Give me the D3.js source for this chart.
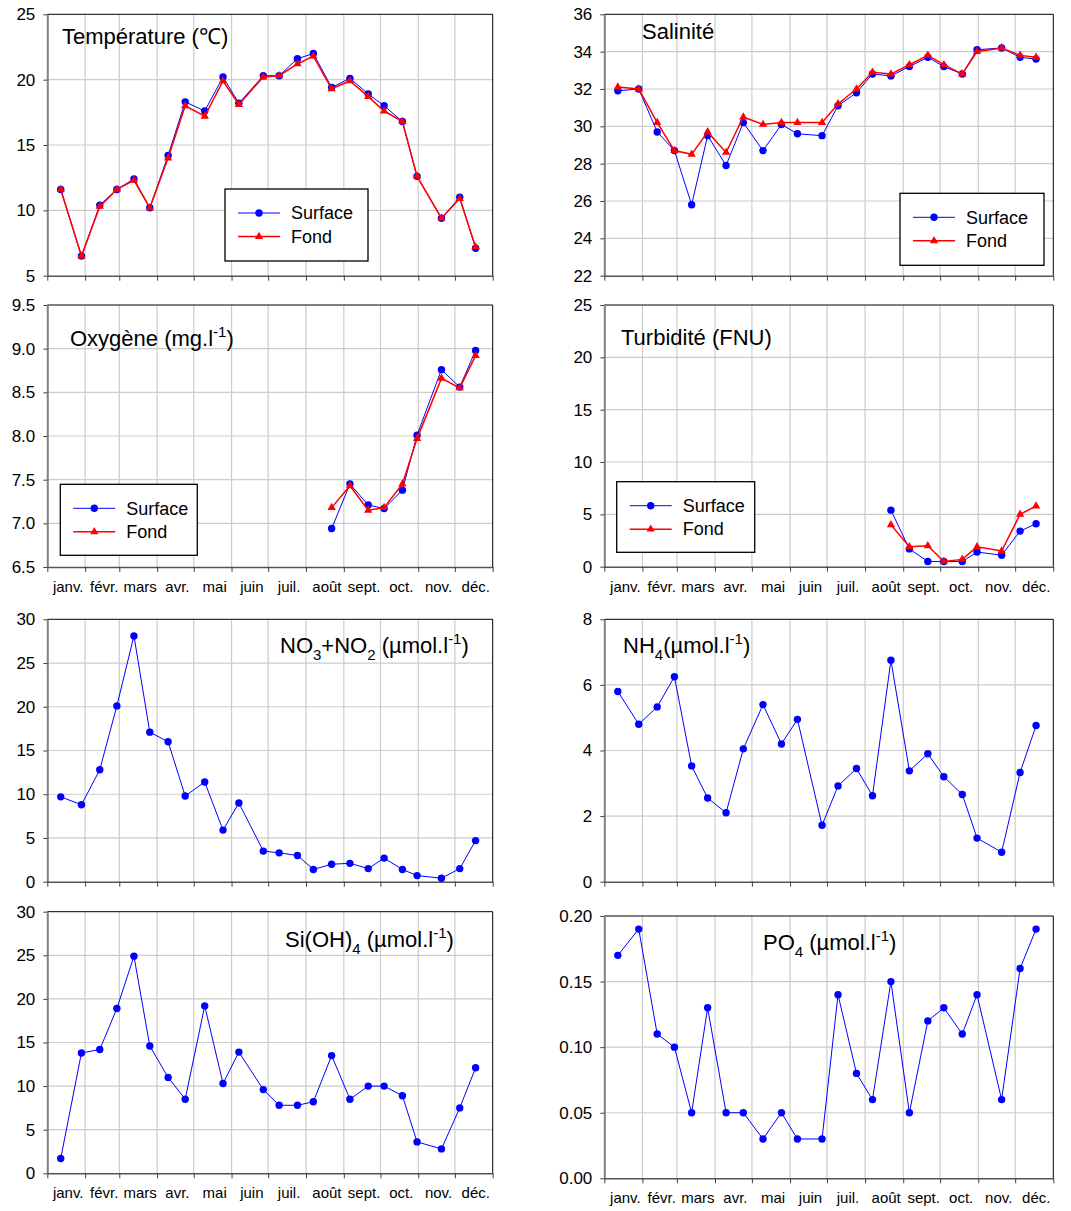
<!DOCTYPE html>
<html>
<head>
<meta charset="utf-8">
<script src="https://cdn.jsdelivr.net/npm/d3@7"></script>
<style>
  body { margin: 0; background: #fff; }
  svg { display: block; font-family: "Liberation Sans", Arial, sans-serif; }
</style>
</head>
<body>
<div id="chart"></div>
<script>
// sampling dates (non leap year)
var dates = ['2010-01-12', '2010-01-29', '2010-02-13', '2010-02-27', '2010-03-13', '2010-03-26',
  '2010-04-10', '2010-04-24', '2010-05-10', '2010-05-25', '2010-06-07', '2010-06-27',
  '2010-07-10', '2010-07-25', '2010-08-07', '2010-08-22', '2010-09-06', '2010-09-21',
  '2010-10-04', '2010-10-19', '2010-10-31', '2010-11-20', '2010-12-05', '2010-12-18'];

var monthLabels = ['janv.', 'févr.', 'mars', 'avr.', 'mai', 'juin', 'juil.', 'août', 'sept.', 'oct.', 'nov.', 'déc.'];

var tempSurface = [11.6, 6.5, 10.4, 11.6, 12.4, 10.2, 14.2, 18.3, 17.6, 20.2, 18.2, 20.3,
  20.3, 21.6, 22.0, 19.4, 20.1, 18.9, 18.0, 16.8, 12.6, 9.4, 11.0, 7.1];
var tempFond = [11.6, 6.5, 10.3, 11.6, 12.3, 10.2, 14.0, 18.0, 17.2, 19.9, 18.1, 20.2,
  20.3, 21.2, 21.8, 19.3, 19.9, 18.7, 17.6, 16.8, 12.6, 9.4, 10.9, 7.2];

var salSurface = [31.9, 32.0, 29.7, 28.7, 25.8, 29.5, 27.9, 30.2, 28.7, 30.1, 29.6, 29.5,
  31.1, 31.8, 32.8, 32.7, 33.2, 33.7, 33.2, 32.8, 34.1, 34.2, 33.7, 33.6];
var salFond = [32.1, 32.0, 30.2, 28.7, 28.5, 29.7, 28.6, 30.5, 30.1, 30.2, 30.2, 30.2,
  31.2, 32.0, 32.9, 32.8, 33.3, 33.8, 33.3, 32.8, 34.0, 34.2, 33.8, 33.7];

var oxySurface = [null, null, null, null, null, null, null, null, null, null, null, null,
  null, null, null, 6.94, 7.45, 7.21, 7.17, 7.38, 8.01, 8.76, 8.56, 8.98];
var oxyFond = [null, null, null, null, null, null, null, null, null, null, null, null,
  null, null, null, 7.18, 7.43, 7.15, 7.18, 7.45, 7.97, 8.66, 8.55, 8.92];

var turbSurface = [null, null, null, null, null, null, null, null, null, null, null, null,
  null, null, null, 5.4, 1.7, 0.5, 0.5, 0.5, 1.4, 1.1, 3.4, 4.1];
var turbFond = [null, null, null, null, null, null, null, null, null, null, null, null,
  null, null, null, 4.0, 1.9, 2.0, 0.5, 0.7, 1.9, 1.5, 5.0, 5.8];

var no3no2 = [9.7, 8.8, 12.8, 20.1, 28.1, 17.1, 16.0, 9.8, 11.4, 5.9, 9.0, 3.5,
  3.3, 3.0, 1.4, 2.0, 2.1, 1.5, 2.7, 1.4, 0.7, 0.4, 1.5, 4.7];
var nh4 = [5.8, 4.8, 5.33, 6.25, 3.53, 2.55, 2.1, 4.05, 5.4, 4.2, 4.95, 1.72,
  2.92, 3.45, 2.62, 6.75, 3.38, 3.9, 3.2, 2.66, 1.33, 0.9, 3.33, 4.76];
var sioh4 = [1.7, 13.8, 14.2, 18.9, 24.9, 14.6, 11.0, 8.5, 19.2, 10.3, 13.9, 9.6,
  7.8, 7.8, 8.2, 13.5, 8.5, 10.0, 10.0, 8.9, 3.6, 2.8, 7.5, 12.1];
var po4 = [0.17, 0.19, 0.11, 0.10, 0.05, 0.13, 0.05, 0.05, 0.03, 0.05, 0.03, 0.03,
  0.14, 0.08, 0.06, 0.15, 0.05, 0.12, 0.13, 0.11, 0.14, 0.06, 0.16, 0.19];

var tempTicks = [5, 10, 15, 20, 25];
var salTicks = [22, 24, 26, 28, 30, 32, 34, 36];
var oxyTicks = [6.5, 7.0, 7.5, 8.0, 8.5, 9.0, 9.5];
var turbTicks = [0, 5, 10, 15, 20, 25];
var no3Ticks = [0, 5, 10, 15, 20, 25, 30];
var nh4Ticks = [0, 2, 4, 6, 8];
var siTicks = [0, 5, 10, 15, 20, 25, 30];
var po4Ticks = [0, 0.05, 0.10, 0.15, 0.20];

var parseDate = d3.timeParse('%Y-%m-%d');
var sampleDates = dates.map(parseDate);
var yearStart = new Date(2010, 0, 1), yearEnd = new Date(2011, 0, 1);
var monthStarts = d3.timeMonth.range(yearStart, yearEnd);

var W = 1071, H = 1211;
var LEFT = [47.3, 492.7], RIGHT = [604.3, 1053.3];
var BLUE = '#0000ff', RED = '#ff0000';

var svg = d3.select('#chart').append('svg')
  .attr('width', W)
  .attr('height', H);

// title parts: [text, 'sub'|'sup'|null]
var panels = [
  { xr: LEFT, yr: [14.3, 275.7], dom: [5, 25], ticks: tempTicks, fmt: 'd',
    series: [tempSurface, tempFond], labels: false,
    title: [['Température (℃)']], tx: 62, ty: 44,
    legend: { x: 225, y: 189, w: 143, h: 72 } },
  { xr: RIGHT, yr: [14.3, 275.7], dom: [22, 36], ticks: salTicks, fmt: 'd',
    series: [salSurface, salFond], labels: false,
    title: [['Salinité']], tx: 642, ty: 39,
    legend: { x: 900, y: 193.3, w: 144, h: 72 } },
  { xr: LEFT, yr: [305, 567], dom: [6.5, 9.5], ticks: oxyTicks, fmt: '.1f',
    series: [oxySurface, oxyFond], labels: true,
    title: [['Oxygène (mg.l'], ['-1', 'sup'], [')']], tx: 70, ty: 346,
    legend: { x: 60.3, y: 484.3, w: 137, h: 71 } },
  { xr: RIGHT, yr: [305, 566.7], dom: [0, 25], ticks: turbTicks, fmt: 'd',
    series: [turbSurface, turbFond], labels: true,
    title: [['Turbidité (FNU)']], tx: 621, ty: 345,
    legend: { x: 616.7, y: 481.7, w: 138, h: 70.6 } },
  { xr: LEFT, yr: [619.3, 881.7], dom: [0, 30], ticks: no3Ticks, fmt: 'd',
    series: [no3no2], labels: false,
    title: [['NO'], ['3', 'sub'], ['+NO'], ['2', 'sub'], [' (µmol.l'], ['-1', 'sup'], [')']], tx: 280, ty: 653 },
  { xr: RIGHT, yr: [619.3, 881.7], dom: [0, 8], ticks: nh4Ticks, fmt: 'd',
    series: [nh4], labels: false,
    title: [['NH'], ['4', 'sub'], ['(µmol.l'], ['-1', 'sup'], [')']], tx: 623, ty: 653 },
  { xr: LEFT, yr: [911.7, 1173.3], dom: [0, 30], ticks: siTicks, fmt: 'd',
    series: [sioh4], labels: true,
    title: [['Si(OH)'], ['4', 'sub'], [' (µmol.l'], ['-1', 'sup'], [')']], tx: 285, ty: 947 },
  { xr: RIGHT, yr: [916, 1178.3], dom: [0, 0.2], ticks: po4Ticks, fmt: '.2f',
    series: [po4], labels: true,
    title: [['PO'], ['4', 'sub'], [' (µmol.l'], ['-1', 'sup'], [')']], tx: 763, ty: 950 }
];

panels.forEach(drawPanel);

function drawPanel(p) {
  var x = d3.scaleTime().domain([yearStart, yearEnd]).range(p.xr);
  var y = d3.scaleLinear().domain(p.dom).range([p.yr[1], p.yr[0]]);
  var g = svg.append('g');
  var x0 = p.xr[0], x1 = p.xr[1], y0 = p.yr[0], y1 = p.yr[1];

  // grid
  g.append('g').selectAll('line').data(p.ticks.slice(1, -1)).enter().append('line')
    .attr('x1', x0).attr('x2', x1)
    .attr('y1', function(d) { return y(d); }).attr('y2', function(d) { return y(d); })
    .attr('stroke', '#cccccc').attr('stroke-width', 1.2);
  g.append('g').selectAll('line').data(monthStarts.slice(1)).enter().append('line')
    .attr('x1', function(d) { return x(d); }).attr('x2', function(d) { return x(d); })
    .attr('y1', y0).attr('y2', y1)
    .attr('stroke', '#cccccc').attr('stroke-width', 1.2);

  // frame: top and right
  g.append('path')
    .attr('d', 'M' + x0 + ',' + y0 + 'H' + x1 + 'V' + y1)
    .attr('fill', 'none').attr('stroke', '#000').attr('stroke-width', 1);

  // y axis
  var yAxis = g.append('g')
    .attr('transform', 'translate(' + x0 + ',0)')
    .call(d3.axisLeft(y).tickValues(p.ticks).tickFormat(d3.format(p.fmt))
      .tickSizeInner(4).tickSizeOuter(0).tickPadding(8));
  yAxis.select('.domain').attr('stroke', '#808080').attr('stroke-width', 2);
  yAxis.selectAll('.tick line').attr('stroke', '#404040');
  yAxis.selectAll('text').attr('font-size', 17).attr('fill', '#000')
    .attr('font-family', '"Liberation Sans", Arial, sans-serif');

  // x axis
  var xAxis = g.append('g')
    .attr('transform', 'translate(0,' + y1 + ')')
    .call(d3.axisBottom(x).tickValues(monthStarts.concat([yearEnd])).tickFormat('')
      .tickSizeInner(5).tickSizeOuter(0));
  xAxis.select('.domain').attr('stroke', '#555').attr('stroke-width', 1.5);
  xAxis.selectAll('.tick line').attr('stroke', '#404040');

  if (p.labels) {
    g.append('g').selectAll('text').data(monthStarts).enter().append('text')
      .attr('x', function(d) { return (x(d) + x(d3.timeMonth.offset(d, 1))) / 2 + 2; })
      .attr('y', y1 + 25)
      .attr('text-anchor', 'middle')
      .attr('font-size', 15)
      .text(function(d, i) { return monthLabels[i]; });
  }

  // series
  var styles = [
    { color: BLUE, width: 1, marker: 'circle' },
    { color: RED, width: 1.5, marker: 'triangle' }
  ];
  p.series.forEach(function(values, si) {
    var st = styles[si];
    var pts = values.map(function(v, i) { return { d: sampleDates[i], v: v }; })
      .filter(function(o) { return o.v !== null; });
    var line = d3.line()
      .x(function(o) { return x(o.d); })
      .y(function(o) { return y(o.v); });
    g.append('path').datum(pts)
      .attr('d', line).attr('fill', 'none')
      .attr('stroke', st.color).attr('stroke-width', st.width);
    drawMarkers(g, pts, x, y, st);
  });

  // title
  var t = g.append('text').attr('x', p.tx).attr('y', p.ty).attr('font-size', 22).attr('fill', '#000');
  var shift = 0;
  p.title.forEach(function(part) {
    var ts = t.append('tspan').text(part[0]);
    var target = part[1] === 'sub' ? 7 : part[1] === 'sup' ? -9 : 0;
    if (part[1]) ts.attr('font-size', 15);
    if (target !== shift) ts.attr('dy', target - shift);
    shift = target;
  });

  if (p.legend) drawLegend(g, p.legend, styles);
}

function drawMarkers(g, pts, x, y, st) {
  if (st.marker === 'circle') {
    g.append('g').selectAll('circle').data(pts).enter().append('circle')
      .attr('cx', function(o) { return x(o.d); })
      .attr('cy', function(o) { return y(o.v); })
      .attr('r', 3.7)
      .attr('fill', st.color);
  } else {
    g.append('g').selectAll('path').data(pts).enter().append('path')
      .attr('d', d3.symbol().type(d3.symbolTriangle).size(30))
      .attr('transform', function(o) { return 'translate(' + x(o.d) + ',' + y(o.v) + ')'; })
      .attr('fill', st.color);
  }
}

function drawLegend(g, L, styles) {
  var lg = g.append('g').attr('transform', 'translate(' + L.x + ',' + L.y + ')');
  lg.append('rect').attr('width', L.w).attr('height', L.h)
    .attr('fill', '#fff').attr('stroke', '#000').attr('stroke-width', 1.3);
  var names = ['Surface', 'Fond'];
  names.forEach(function(name, i) {
    var st = styles[i];
    var ry = i === 0 ? 24 : 47.5;
    lg.append('line').attr('x1', 13).attr('x2', 55).attr('y1', ry).attr('y2', ry)
      .attr('stroke', st.color).attr('stroke-width', st.width);
    drawMarkers(lg, [{ d: 34, v: ry }], function(d) { return d; }, function(v) { return v; }, st);
    lg.append('text').attr('x', 66).attr('y', ry).attr('dy', '0.35em')
      .attr('font-size', 18).text(name);
  });
}
</script>
</body>
</html>
